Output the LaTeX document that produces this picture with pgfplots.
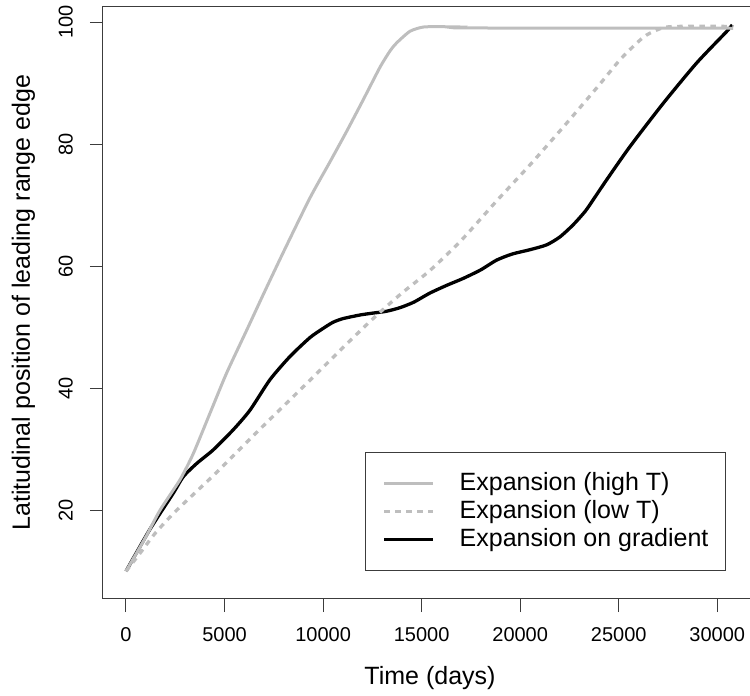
\documentclass[border=0pt]{standalone}
\usepackage{pgfplots}
\pgfplotsset{compat=1.18}
\usepackage{fontspec}
\setmainfont{Liberation Sans}
\definecolor{rgray}{RGB}{190,190,190}
\definecolor{frame}{RGB}{60,60,60}

\begin{document}
\begin{tikzpicture}
\begin{axis}[
  name=ax,
  scale only axis,
  width=647pt, height=592.7pt,
  xmin=-1167, xmax=31660, ymin=5.45, ymax=102.6,
  axis x line*=box, axis y line*=left,
  axis line style={line width=1pt, color=frame},
  xtick={0,5000,10000,15000,20000,25000,30000},
  ytick={20,40,60,80,100},
  xtick pos=left, ytick pos=left,
  scaled x ticks=false,
  /pgf/number format/assume math mode=true,
  /pgf/number format/1000 sep={},
  tick align=outside, major tick length=13pt,
  tick style={line width=1pt, color=frame},
  xticklabel style={font=\fontsize{20}{24}\selectfont, anchor=north, inner sep=0pt},
  xticklabel shift=15pt,
  yticklabel style={font=\fontsize{20}{24}\selectfont, rotate=90, anchor=south, inner sep=0pt},
  yticklabel shift=17pt,
  xlabel={Time (days)},
  xlabel style={at={(axis description cs:0.5054,-0.1451)}, anchor=base, inner sep=0pt, font=\fontsize{25}{30}\selectfont},
  ylabel={Latitudinal position of leading range edge},
  ylabel style={at={(axis description cs:-0.1130,0.5)}, anchor=base, rotate=0, inner sep=0pt, font=\fontsize{25}{30}\selectfont},
  legend cell align=left,
  legend image code/.code={\draw[#1] (0pt,0pt) -- (49pt,0pt);},
  legend style={at={(0.9629,0.0472)}, anchor=south east, draw=frame, line width=1pt,
    font=\fontsize{25}{30}\selectfont, inner xsep=17pt, inner ysep=18.5pt, row sep=3pt,
    nodes={inner sep=0pt, text height=19pt, text depth=6pt},
    /tikz/every odd column/.append style={column sep=25pt}},
]
% gradient (drawn first, under the grey lines)
\addplot[black, line width=3.3pt, smooth, tension=0.4, forget plot] coordinates {
(0,10) (1200,16.8) (2400,22.8) (2907,25.5) (3600,27.7) (4429,29.9) (5444,33.2)
(6291,36.4) (7305,41.4) (8320,45.2) (9334,48.3) (10000,49.8) (10500,50.8)
(11000,51.4) (11871,52.0) (12500,52.3) (13200,52.6) (13900,53.2) (14600,54.1)
(15422,55.6) (16300,56.9) (17113,58.0) (18000,59.4) (18806,61.0) (19600,62.0)
(20495,62.7) (21342,63.5) (22017,64.8) (22693,66.8) (23300,69.0) (23707,70.9)
(24385,74.15) (25568,79.6) (27258,86.7) (28951,93.3) (30474,98.46) (30760,99.56)
};
% high T
\addplot[rgray, line width=3pt, smooth, tension=0.4] coordinates {
(0,10) (1000,15.6) (1725,20.0) (2740,25.0) (3416,29.3) (4261,35.9) (5107,42.5)
(6122,49.5) (7000,55.6) (8000,62.4) (9335,71.2) (10349,77.1) (11195,82.1)
(12040,87.3) (12885,92.6) (13400,95.3) (13732,96.6) (14407,98.5) (15083,99.2)
(16000,99.25) (17000,99.2) (17300,99.05) (30800,99.0)
};
% low T
\addplot[rgray, line width=3.3pt, dash pattern=on 5.5pt off 5.5pt, smooth, tension=0.4] coordinates {
(0,10) (700,12.9) (1500,16.3) (2570,20.0) (4500,25.9) (6800,33.3) (9300,41.2)
(11400,47.9) (12700,51.9) (14000,55.6) (15422,59.3) (17000,64.2) (18806,70.7)
(20495,76.6) (22185,82.8) (23876,89.2) (25000,93.6) (25568,95.5) (26200,97.4)
(26582,98.2) (27258,99.1) (28000,99.3) (30800,99.3)
};
\addlegendimage{black, line width=3.3pt}
\legend{Expansion (high T), Expansion (low T), Expansion on gradient}
\end{axis}
\pgfresetboundingbox
\path[use as bounding box] ([xshift=-103pt,yshift=-97pt]ax.south west) rectangle ([yshift=6.3pt]ax.north east);
\end{tikzpicture}
\end{document}
